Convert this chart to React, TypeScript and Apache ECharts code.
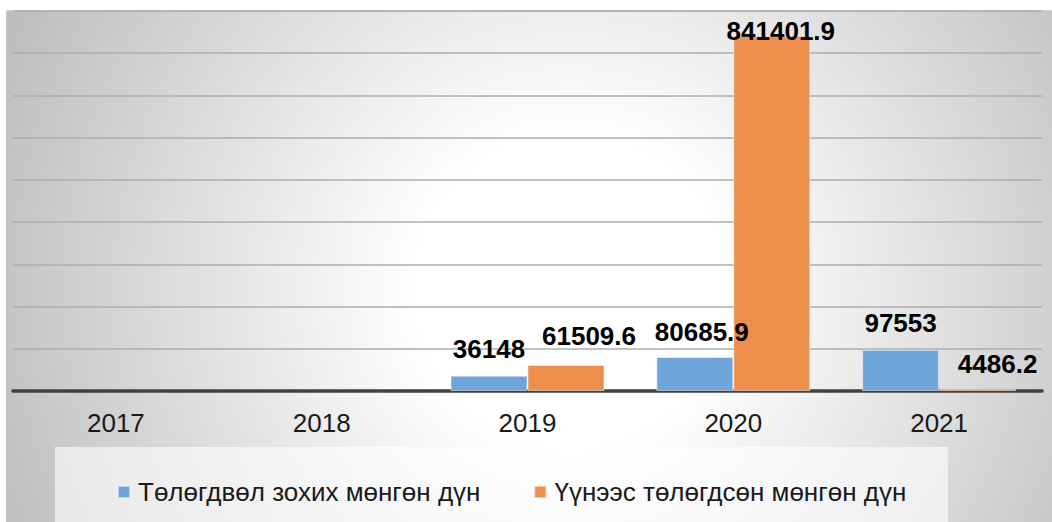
import React, { useEffect, useRef } from "react";
import * as echarts from "echarts";

const years = ["2017", "2018", "2019", "2020", "2021"];
const dueAmount: (number | null)[] = [null, null, 36148, 80685.9, 97553];
const paidAmount: (number | null)[] = [null, null, 61509.6, 841401.9, 4486.2];
const seriesNames = ["Төлөгдвөл зохих мөнгөн дүн", "Үүнээс төлөгдсөн мөнгөн дүн"];
const yMax = 900000;
const yInterval = 100000;

// label nudges (style only)
const dueLabelOffsets = [[0, 0], [0, 0], [0, 0], [7, 2], [0, 0]];
const paidLabelOffsets = [[0, 0], [0, 0], [23, -2], [9, 22], [20, 2]];

const FONT = "'Liberation Sans', Arial, sans-serif";
const BLUE = "#6fa6da";
const ORANGE = "#ee8e4c";

function toData(values: (number | null)[], offsets: number[][]) {
  return values.map((v, i) =>
    v == null ? "-" : { value: v, label: { offset: offsets[i] } }
  );
}

export default function App() {
  const ref = useRef<HTMLDivElement>(null);
  useEffect(() => {
    if (!ref.current) return;
    const chart = echarts.init(ref.current, undefined, { renderer: "svg" });
    const labelStyle = {
      show: true,
      position: "top",
      distance: 14,
      fontFamily: FONT,
      fontSize: 26,
      fontWeight: "bold",
      color: "#000000",
    };
    chart.setOption({
      animation: false,
      graphic: [
        {
          type: "rect",
          z: -10,
          silent: true,
          shape: { x: 7, y: 11, width: 1045, height: 511 },
          style: {
            fill: new echarts.graphic.RadialGradient(
              570,
              290,
              620,
              [
                { offset: 0, color: "#ffffff" },
                { offset: 0.25, color: "#ffffff" },
                { offset: 1, color: "#bdbdbd" },
              ],
              true
            ),
          },
        },
        {
          type: "line",
          z: -9,
          silent: true,
          shape: { x1: 7, y1: 11, x2: 1052, y2: 11 },
          style: { stroke: "#c4c4c4", lineWidth: 1.5 },
        },
        {
          type: "line",
          z: -9,
          silent: true,
          shape: { x1: 7, y1: 11, x2: 7, y2: 522 },
          style: { stroke: "#c0c0c0", lineWidth: 2 },
        },
        {
          type: "rect",
          z: -8,
          silent: true,
          shape: { x: 55, y: 447, width: 893, height: 75 },
          style: { fill: "rgba(255,255,255,0.6)" },
        },
      ],
      grid: { left: 13, right: 10, top: 11, bottom: 131, containLabel: false },
      legend: {
        left: 112,
        top: 474,
        icon: "rect",
        itemWidth: 12,
        itemHeight: 12,
        itemGap: 53,
        data: seriesNames,
        textStyle: {
          fontFamily: FONT,
          fontSize: 26,
          color: "#1a1a1a",
          padding: [0, 0, 0, 3],
        },
      },
      xAxis: {
        type: "category",
        data: years,
        axisTick: { show: false },
        axisLine: { show: true, lineStyle: { color: "#404040", width: 3.5 } },
        axisLabel: {
          fontFamily: FONT,
          fontSize: 26,
          color: "#1a1a1a",
          margin: 19,
        },
      },
      yAxis: {
        type: "value",
        min: 0,
        max: yMax,
        interval: yInterval,
        axisLabel: { show: false },
        axisLine: { show: false },
        axisTick: { show: false },
        splitLine: { show: true, lineStyle: { color: "#adadad", width: 1.5 } },
      },
      series: [
        {
          name: seriesNames[0],
          type: "bar",
          barWidth: 77,
          barGap: "0%",
          itemStyle: { color: BLUE, borderColor: "rgba(255,255,255,0.5)", borderWidth: 1 },
          label: labelStyle,
          data: toData(dueAmount, dueLabelOffsets),
        },
        {
          name: seriesNames[1],
          type: "bar",
          barWidth: 77,
          barGap: "0%",
          itemStyle: { color: ORANGE, borderColor: "rgba(255,255,255,0.5)", borderWidth: 1 },
          label: labelStyle,
          data: toData(paidAmount, paidLabelOffsets),
        },
      ],
    });
    return () => chart.dispose();
  }, []);
  return (
    <div
      ref={ref}
      style={{ position: "absolute", left: 0, top: 0, width: 1052, height: 522 }}
    />
  );
}
